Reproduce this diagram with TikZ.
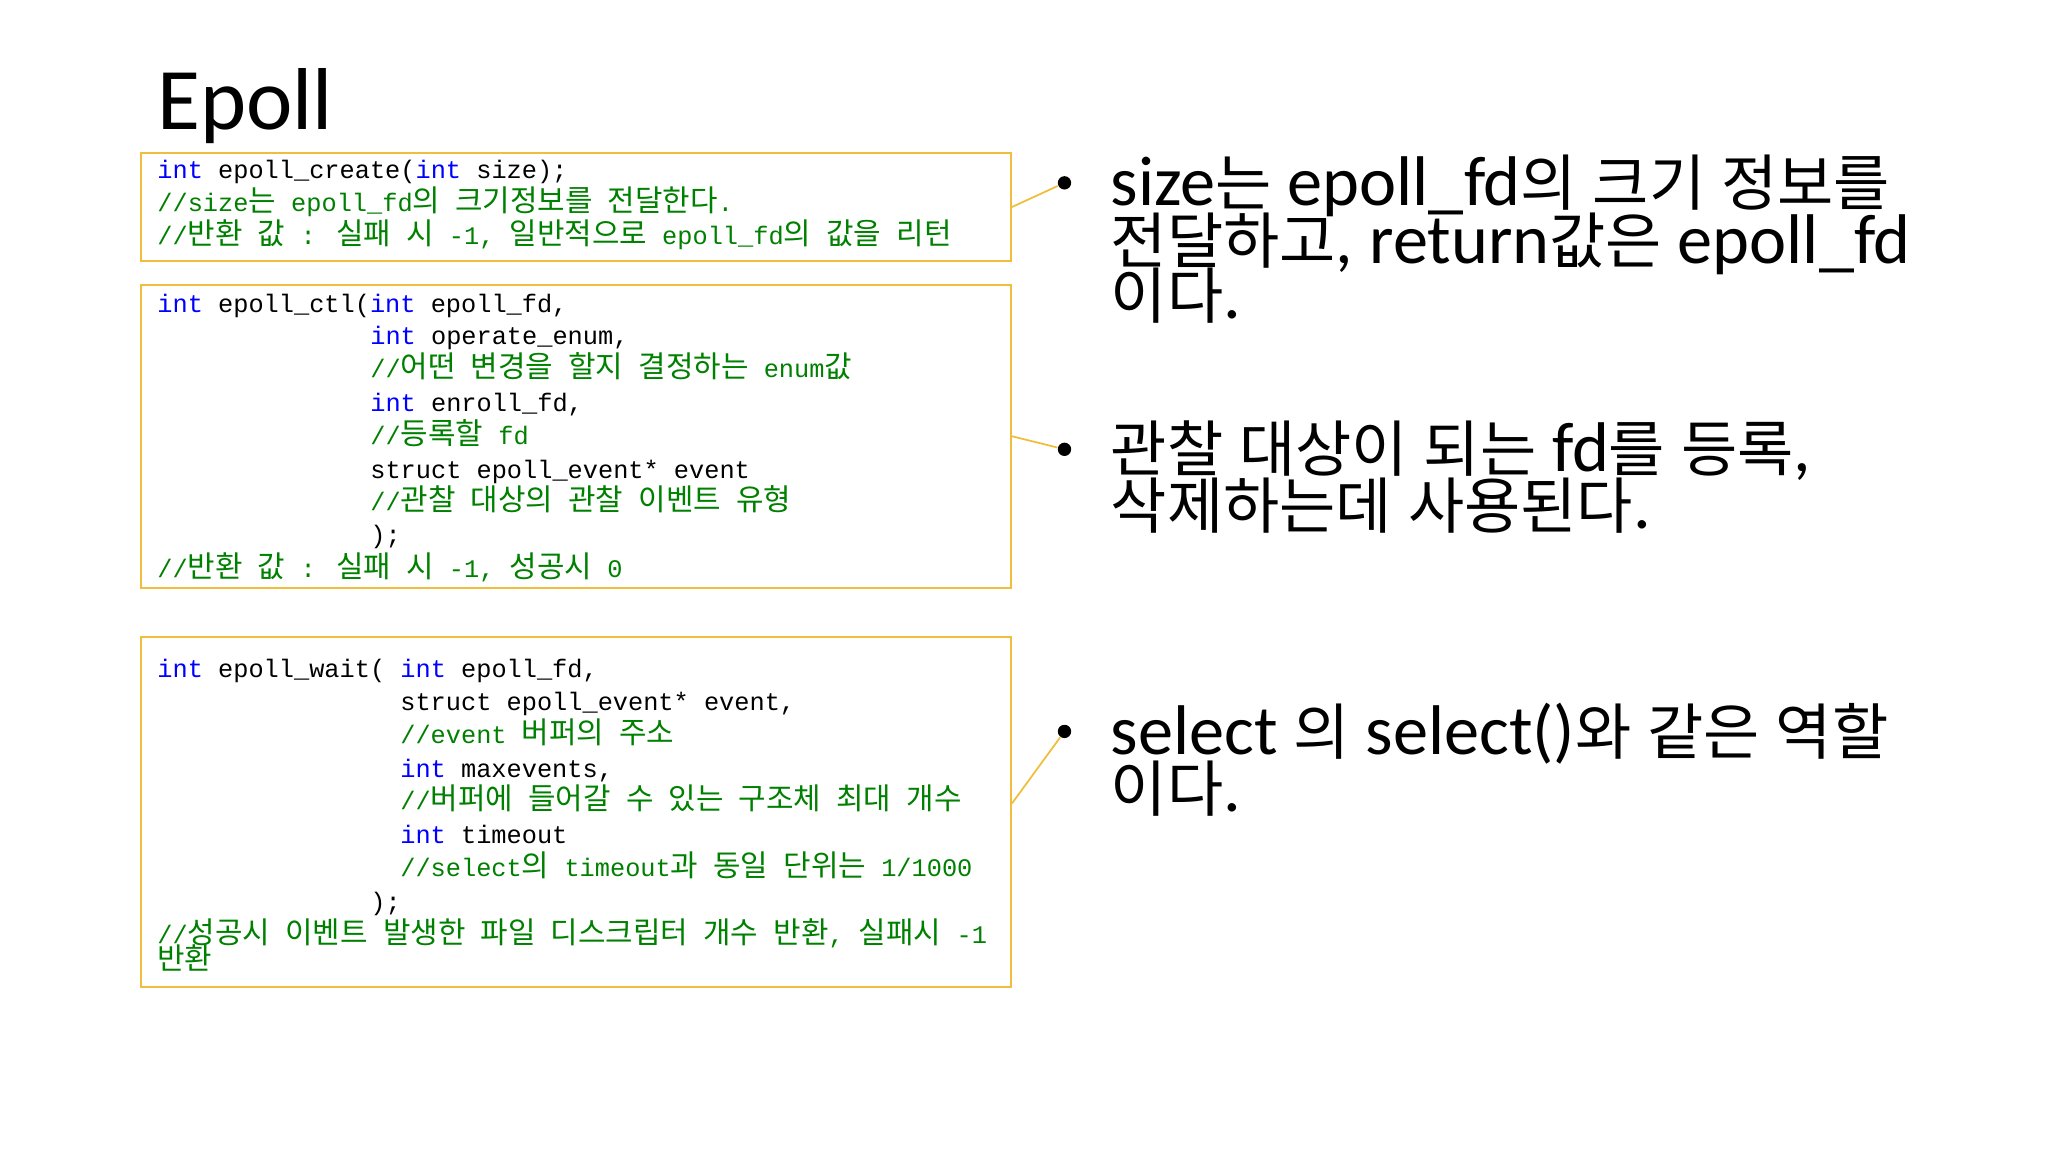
\documentclass[tikz,border=0pt]{standalone}
\usepackage{fontspec}
\usetikzlibrary{fit}
\setmainfont{Carlito}
\newfontfamily\mono{Liberation Mono}
\newfontfamily\krf{Noto Sans CJK KR}
\definecolor{kw}{RGB}{0,0,255}
\definecolor{cm}{RGB}{0,128,0}
\definecolor{gold}{RGB}{240,190,60}
\newcommand{\K}[1]{\textcolor{kw}{#1}}
\newcommand{\C}[1]{\textcolor{cm}{#1}}
\newcommand{\km}[1]{{\fontsize{8.5}{9}\krf #1}}
\newcommand{\kb}[1]{{\fontsize{17.4}{18}\krf #1}}
\tikzset{
  code/.style={anchor=base west, inner sep=0, font=\fontsize{7.2}{9}\mono},
  big/.style={anchor=base west, inner sep=0, font=\fontsize{20}{22}\selectfont},
  box/.style={draw=gold, line width=0.6pt, inner sep=0},
  conn/.style={draw=gold, line width=0.5pt},
  dot/.style={circle, fill=black, inner sep=0, minimum size=3.8pt}
}
\begin{document}
\begin{tikzpicture}[x=0.01306cm,y=-0.01306cm]
\useasboundingbox (0,0) rectangle (1568,882);
\node[anchor=base west, inner sep=0, font=\fontsize{25}{28}\selectfont] (title) at (120,99) {Epoll};
% box 1
\node[box, fit={(108,117)(774,200)}] (b1) {};
\node[code] (l11) at (120,137) {\K{int} epoll\_create(\K{int} size);};
\node[code] (l12) at (120,162) {\C{//size\km{는} epoll\_fd\km{의} \km{크기정보를} \km{전달한다}.}};
\node[code] (l13) at (120,187) {\C{//\km{반환} \km{값} : \km{실패} \km{시} -1, \km{일반적으로} epoll\_fd\km{의} \km{값을} \km{리턴}}};
% box 2
\node[box, fit={(108,218)(774,450)}] (b2) {};
\node[code] (l21) at (120,239) {\K{int} epoll\_ctl(\K{int} epoll\_fd,};
\node[code] (l22) at (283,264) {\K{int} operate\_enum,};
\node[code] (l23) at (283,289) {\C{//\km{어떤} \km{변경을} \km{할지} \km{결정하는} enum\km{값}}};
\node[code] (l24) at (283,315) {\K{int} enroll\_fd,};
\node[code] (l25) at (283,340) {\C{//\km{등록할} fd}};
\node[code] (l26) at (283,366) {struct epoll\_event* event};
\node[code] (l27) at (283,391) {\C{//\km{관찰} \km{대상의} \km{관찰} \km{이벤트} \km{유형}}};
\node[code] (l28) at (283,416) {);};
\node[code] (l29) at (120,442) {\C{//\km{반환} \km{값} : \km{실패} \km{시} -1, \km{성공시} 0}};
% box 3
\node[box, fit={(108,488)(774,756)}] (b3) {};
\node[code] (l31) at (120,519) {\K{int} epoll\_wait( \K{int} epoll\_fd,};
\node[code] (l32) at (306,544) {struct epoll\_event* event,};
\node[code] (l33) at (306,569) {\C{//event \km{버퍼의} \km{주소}}};
\node[code] (l34) at (306,595) {\K{int} maxevents,};
\node[code] (l35) at (306,620) {\C{//\km{버퍼에} \km{들어갈} \km{수} \km{있는} \km{구조체} \km{최대} \km{개수}}};
\node[code] (l36) at (306,646) {\K{int} timeout};
\node[code] (l37) at (306,671) {\C{//select\km{의} timeout\km{과} \km{동일} \km{단위는} 1/1000}};
\node[code] (l38) at (283,697) {);};
\node[code] (l39) at (120,722) {\C{//\km{성공시} \km{이벤트} \km{발생한} \km{파일} \km{디스크립터} \km{개수} \km{반환}, \km{실패시} -1}};
\node[code] (l3a) at (120,742) {\C{\km{반환}}};
% bullets
\node[dot] (d1) at (815,140) {};
\node[dot] (d2) at (815,344) {};
\node[dot] (d3) at (815,560) {};
\draw[conn] (b1.east) -- (d1);
\draw[conn] (b2.east) -- (d2);
\draw[conn] ([yshift=0.09cm]b3.east) -- (d3);
% right texts
\node[big] (r11) at (850,157) {size\kb{는} epoll\_fd\kb{의} \kb{크기} \kb{정보를}};
\node[big] (r12) at (850,202) {\kb{전달하고}, return\kb{값은} epoll\_fd};
\node[big] (r13) at (850,244) {\kb{이다}.};
\node[big] (r21) at (850,361) {\kb{관찰} \kb{대상이} \kb{되는} fd\kb{를} \kb{등록},};
\node[big] (r22) at (850,405) {\kb{삭제하는데} \kb{사용된다}.};
\node[big] (r31) at (850,578) {select \kb{의} select()\kb{와} \kb{같은} \kb{역할}};
\node[big] (r32) at (850,621) {\kb{이다}.};
\end{tikzpicture}
\end{document}
